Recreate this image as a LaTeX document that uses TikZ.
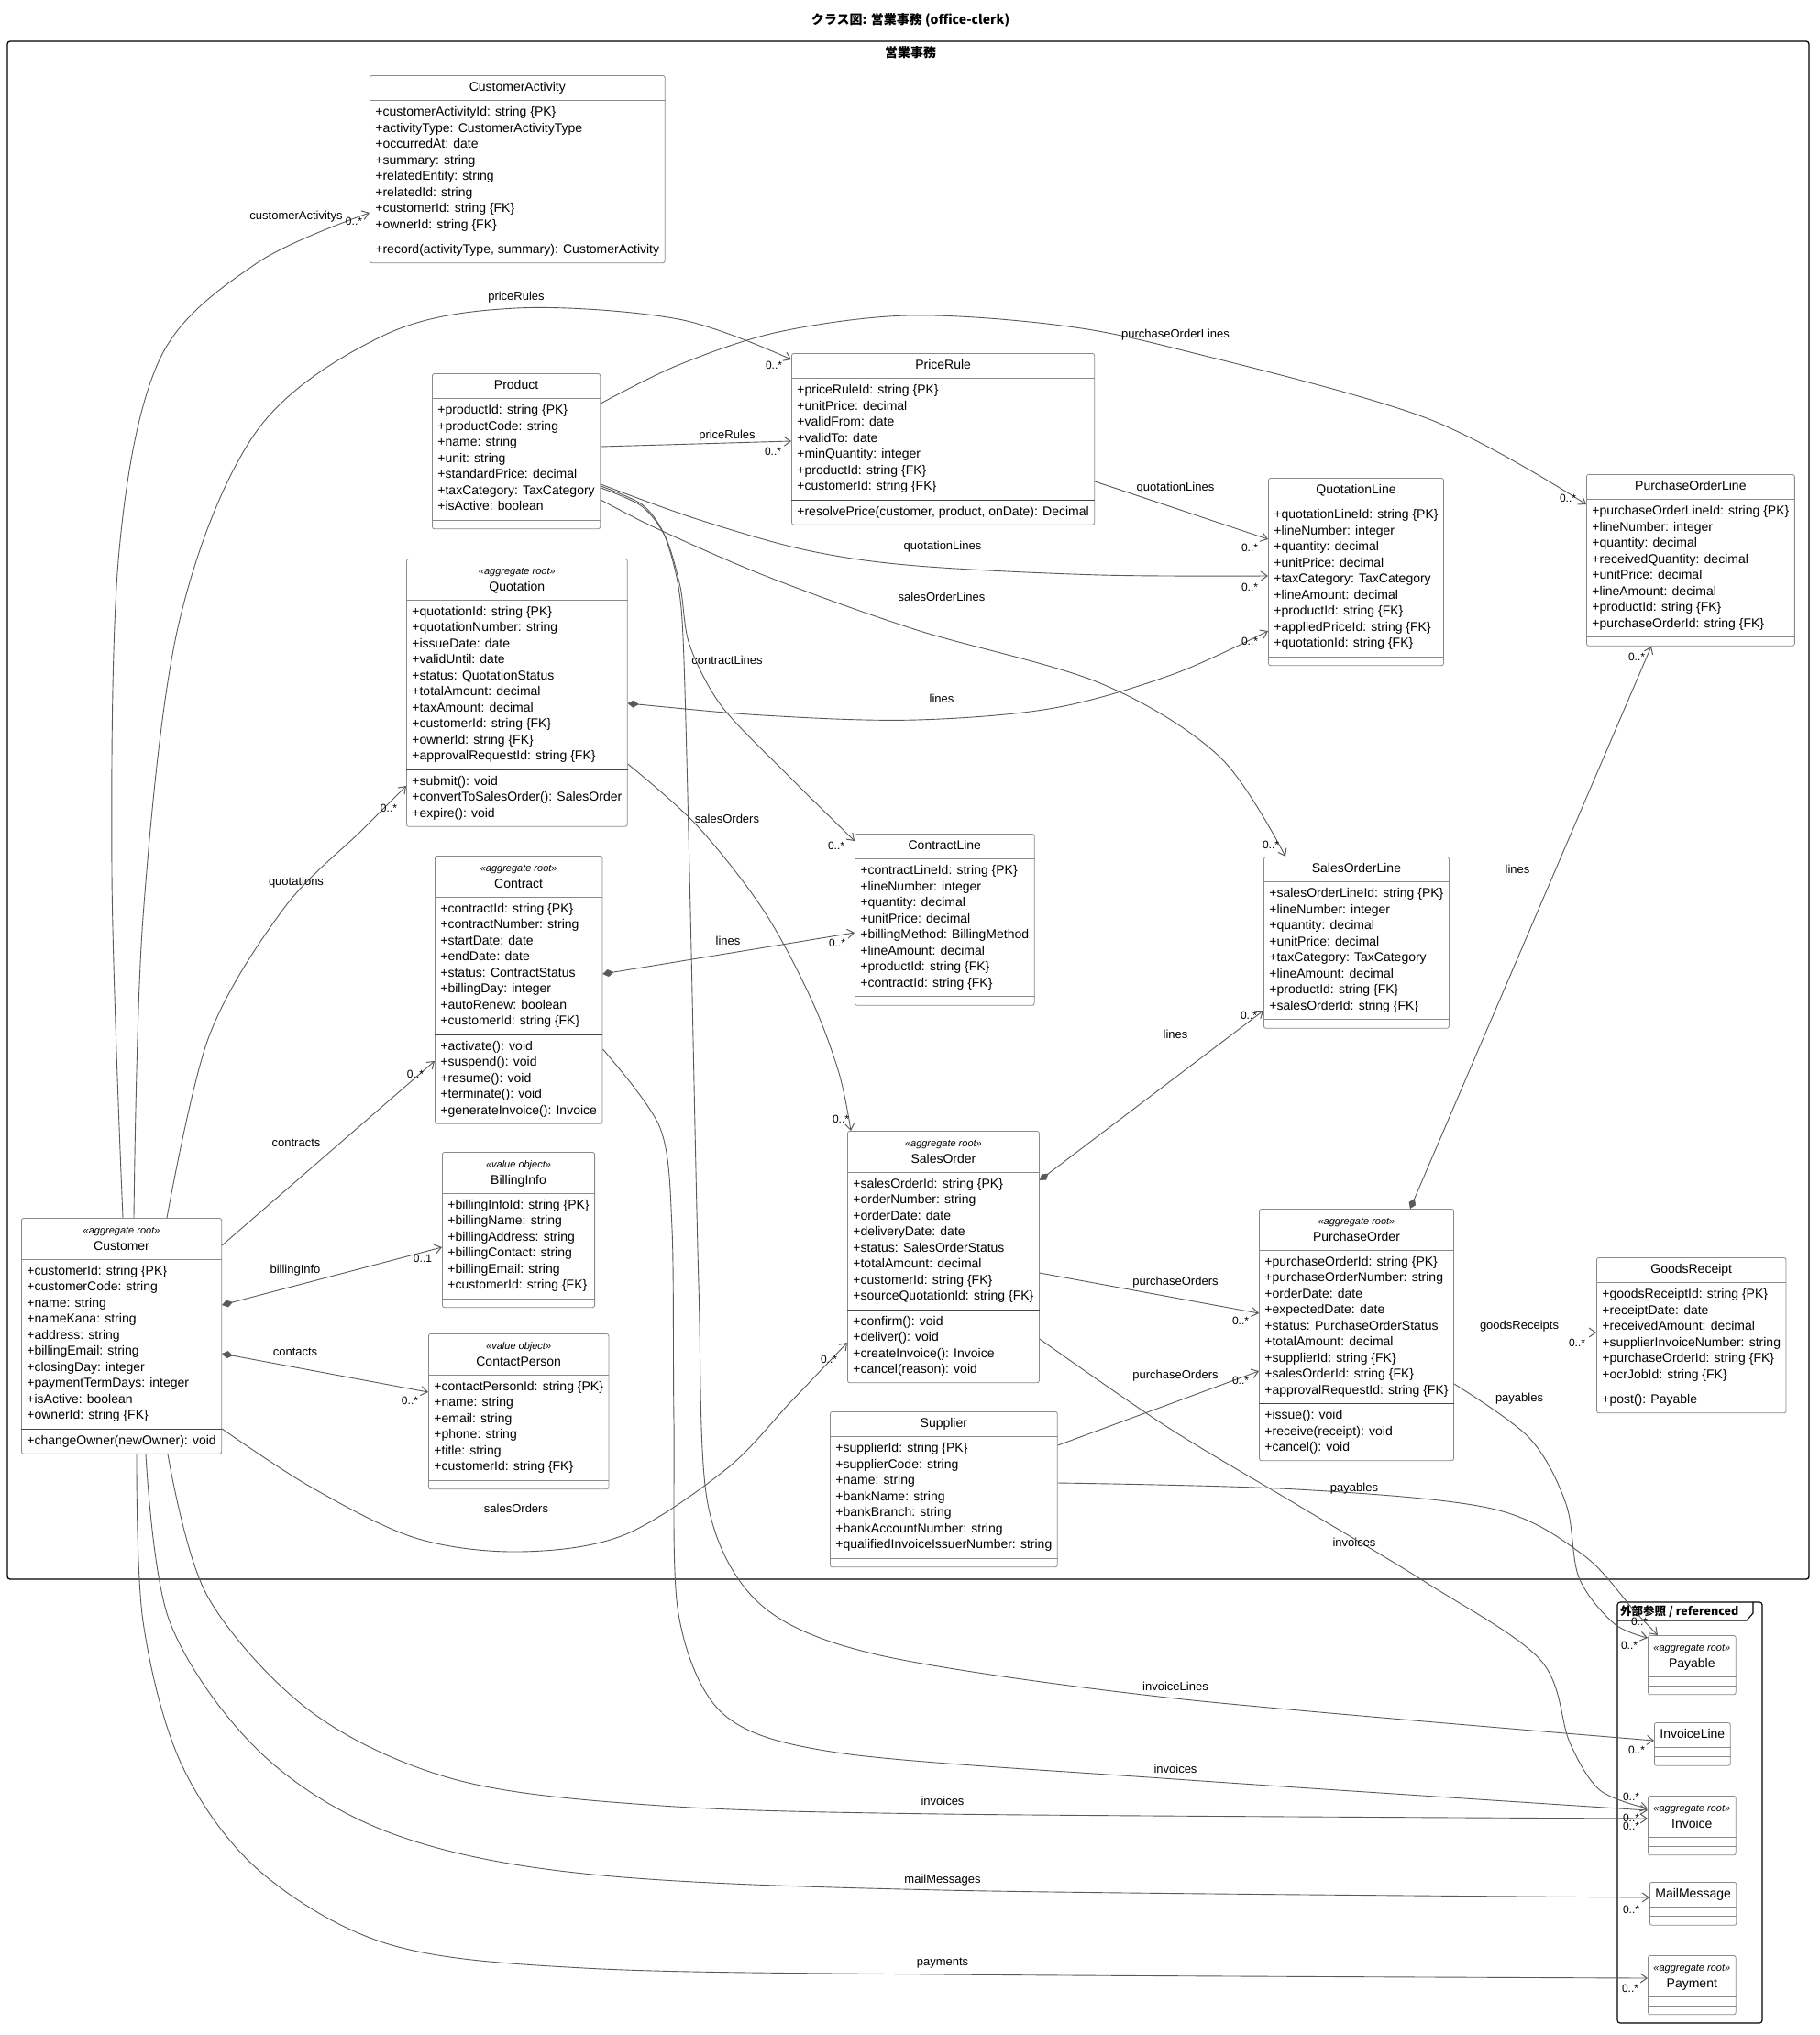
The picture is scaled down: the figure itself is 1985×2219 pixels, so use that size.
\documentclass[tikz,border=0pt]{standalone}
\usepackage{fontspec}
\setmainfont{Liberation Sans}
\newfontfamily\cjk{Noto Sans CJK JP}
\usetikzlibrary{arrows.meta,shapes.multipart,calc}
\definecolor{clsb}{HTML}{8A8A8A}
\definecolor{sepd}{HTML}{444444}
\definecolor{connc}{HTML}{5A5A5A}
\newcommand\clsfont{\fontsize{14}{17.5}\selectfont}
\newcommand\stfont{\fontsize{11}{13}\selectfont\itshape}
\newcommand\rolefont{\fontsize{13}{15}\selectfont}
\newcommand\multfont{\fontsize{12}{14}\selectfont}
\newcommand\uattr[1]{\begin{tabular}{@{}l@{}}#1\end{tabular}}
\newcommand\uhead[1]{\begin{tabular}{@{}c@{}}#1\end{tabular}}
\newcommand\usthead[2]{\begin{tabular}{@{}c@{}}{\stfont «#1»}\\#2\end{tabular}}
\newcommand\uempty{\raisebox{0pt}[-1.5pt][0pt]{\rule{0.5pt}{0pt}}}
\tikzset{
  cls/.style={rectangle split, rectangle split parts=3,
    rectangle split part align={center,left,left},
    rectangle split draw splits=false,
    draw=clsb, fill=white, rounded corners=2.5pt, line width=0.8pt,
    inner xsep=6pt, inner ysep=4.5pt, anchor=north west, font=\clsfont},
  conn/.style={draw=connc, line width=0.9pt, -{Straight Barb[length=7pt,width=10pt,line width=1pt]}},
  comp/.style={draw=connc, line width=0.9pt, {Diamond[length=12pt,width=8pt,fill=connc,line width=0.4pt]}-{Straight Barb[length=7pt,width=10pt,line width=1pt]}},
  role/.style={font=\rolefont, inner sep=1pt},
  mult/.style={font=\multfont, inner sep=1pt},
  sepl/.style={draw=clsb, line width=0.8pt},
  sepm/.style={draw=sepd, line width=0.8pt},
}
\begin{document}
\begin{tikzpicture}[x=1pt,y=-1pt]
\useasboundingbox (0,0) rectangle (1985,2219);
\fill[white] (0,0) rectangle (1985,2219);
% title and frames
\node[font=\cjk\bfseries\fontsize{14}{16}\selectfont] (title) at (993,22) {クラス図: 営業事務 (office-clerk)};
\draw[line width=1.3pt, rounded corners=3pt] (8,45) rectangle (1973,1722);
\node[font=\cjk\bfseries\fontsize{14}{16}\selectfont] (pkglabel) at (993,57) {営業事務};
\draw[line width=1.1pt, rounded corners=3pt] (1764,1747) rectangle (1922,2206);
\draw[line width=1.1pt] (1764,1767) -- (1905,1767) -- (1912,1759) -- (1912,1747);
\node[anchor=west, inner sep=0pt, font=\cjk\bfseries\fontsize{12.5}{15}\selectfont] (extlabel) at (1767,1757) {外部参照 / referenced};

% classes
\node[cls] (cact) at (403,82) {\uhead{CustomerActivity}\nodepart{two}\uattr{+customerActivityId: string \{PK\}\\+activityType: CustomerActivityType\\+occurredAt: date\\+summary: string\\+relatedEntity: string\\+relatedId: string\\+customerId: string \{FK\}\\+ownerId: string \{FK\}}\nodepart{three}\uattr{+record(activityType, summary): CustomerActivity}};

\node[cls] (prule) at (863,385) {\uhead{PriceRule}\nodepart{two}\uattr{+priceRuleId: string \{PK\}\\+unitPrice: decimal\\+validFrom: date\\+validTo: date\\+minQuantity: integer\\+productId: string \{FK\}\\+customerId: string \{FK\}}\nodepart{three}\uattr{+resolvePrice(customer, product, onDate): Decimal}};

\node[cls] (prod) at (471,407) {\uhead{Product}\nodepart{two}\uattr{+productId: string \{PK\}\\+productCode: string\\+name: string\\+unit: string\\+standardPrice: decimal\\+taxCategory: TaxCategory\\+isActive: boolean}\nodepart{three}\uempty};

\node[cls] (qline) at (1383,521) {\uhead{QuotationLine}\nodepart{two}\uattr{+quotationLineId: string \{PK\}\\+lineNumber: integer\\+quantity: decimal\\+unitPrice: decimal\\+taxCategory: TaxCategory\\+lineAmount: decimal\\+productId: string \{FK\}\\+appliedPriceId: string \{FK\}\\+quotationId: string \{FK\}}\nodepart{three}\uempty};

\node[cls] (poline) at (1730,517) {\uhead{PurchaseOrderLine}\nodepart{two}\uattr{+purchaseOrderLineId: string \{PK\}\\+lineNumber: integer\\+quantity: decimal\\+receivedQuantity: decimal\\+unitPrice: decimal\\+lineAmount: decimal\\+productId: string \{FK\}\\+purchaseOrderId: string \{FK\}}\nodepart{three}\uempty};

\node[cls] (quot) at (443,609) {\usthead{aggregate root}{Quotation}\nodepart{two}\uattr{+quotationId: string \{PK\}\\+quotationNumber: string\\+issueDate: date\\+validUntil: date\\+status: QuotationStatus\\+totalAmount: decimal\\+taxAmount: decimal\\+customerId: string \{FK\}\\+ownerId: string \{FK\}\\+approvalRequestId: string \{FK\}}\nodepart{three}\uattr{+submit(): void\\+convertToSalesOrder(): SalesOrder\\+expire(): void}};

\node[cls] (cline) at (932,909) {\uhead{ContractLine}\nodepart{two}\uattr{+contractLineId: string \{PK\}\\+lineNumber: integer\\+quantity: decimal\\+unitPrice: decimal\\+billingMethod: BillingMethod\\+lineAmount: decimal\\+productId: string \{FK\}\\+contractId: string \{FK\}}\nodepart{three}\uempty};

\node[cls] (soline) at (1378,934) {\uhead{SalesOrderLine}\nodepart{two}\uattr{+salesOrderLineId: string \{PK\}\\+lineNumber: integer\\+quantity: decimal\\+unitPrice: decimal\\+taxCategory: TaxCategory\\+lineAmount: decimal\\+productId: string \{FK\}\\+salesOrderId: string \{FK\}}\nodepart{three}\uempty};

\node[cls] (contract) at (474,933) {\usthead{aggregate root}{Contract}\nodepart{two}\uattr{+contractId: string \{PK\}\\+contractNumber: string\\+startDate: date\\+endDate: date\\+status: ContractStatus\\+billingDay: integer\\+autoRenew: boolean\\+customerId: string \{FK\}}\nodepart{three}\uattr{+activate(): void\\+suspend(): void\\+resume(): void\\+terminate(): void\\+generateInvoice(): Invoice}};

\node[cls] (billing) at (482,1256) {\usthead{value object}{BillingInfo}\nodepart{two}\uattr{+billingInfoId: string \{PK\}\\+billingName: string\\+billingAddress: string\\+billingContact: string\\+billingEmail: string\\+customerId: string \{FK\}}\nodepart{three}\uempty};

\node[cls] (so) at (924,1233) {\usthead{aggregate root}{SalesOrder}\nodepart{two}\uattr{+salesOrderId: string \{PK\}\\+orderNumber: string\\+orderDate: date\\+deliveryDate: date\\+status: SalesOrderStatus\\+totalAmount: decimal\\+customerId: string \{FK\}\\+sourceQuotationId: string \{FK\}}\nodepart{three}\uattr{+confirm(): void\\+deliver(): void\\+createInvoice(): Invoice\\+cancel(reason): void}};

\node[cls] (po) at (1373,1318) {\usthead{aggregate root}{PurchaseOrder}\nodepart{two}\uattr{+purchaseOrderId: string \{PK\}\\+purchaseOrderNumber: string\\+orderDate: date\\+expectedDate: date\\+status: PurchaseOrderStatus\\+totalAmount: decimal\\+supplierId: string \{FK\}\\+salesOrderId: string \{FK\}\\+approvalRequestId: string \{FK\}}\nodepart{three}\uattr{+issue(): void\\+receive(receipt): void\\+cancel(): void}};

\node[cls] (gr) at (1741,1371) {\uhead{GoodsReceipt}\nodepart{two}\uattr{+goodsReceiptId: string \{PK\}\\+receiptDate: date\\+receivedAmount: decimal\\+supplierInvoiceNumber: string\\+purchaseOrderId: string \{FK\}\\+ocrJobId: string \{FK\}}\nodepart{three}\uattr{+post(): Payable}};

\node[cls] (cust) at (23,1328) {\usthead{aggregate root}{Customer}\nodepart{two}\uattr{+customerId: string \{PK\}\\+customerCode: string\\+name: string\\+nameKana: string\\+address: string\\+billingEmail: string\\+closingDay: integer\\+paymentTermDays: integer\\+isActive: boolean\\+ownerId: string \{FK\}}\nodepart{three}\uattr{+changeOwner(newOwner): void}};

\node[cls] (contact) at (467,1454) {\usthead{value object}{ContactPerson}\nodepart{two}\uattr{+contactPersonId: string \{PK\}\\+name: string\\+email: string\\+phone: string\\+title: string\\+customerId: string \{FK\}}\nodepart{three}\uempty};

\node[cls] (supp) at (905,1539) {\uhead{Supplier}\nodepart{two}\uattr{+supplierId: string \{PK\}\\+supplierCode: string\\+name: string\\+bankName: string\\+bankBranch: string\\+bankAccountNumber: string\\+qualifiedInvoiceIssuerNumber: string}\nodepart{three}\uempty};

\node[cls] (payable) at (1797,1783) {\usthead{aggregate root}{Payable}\nodepart{two}\uempty\nodepart{three}\uempty};
\node[cls] (invline) at (1804,1878) {\uhead{InvoiceLine}\nodepart{two}\uempty\nodepart{three}\uempty};
\node[cls] (invoice) at (1797,1958) {\usthead{aggregate root}{Invoice}\nodepart{two}\uempty\nodepart{three}\uempty};
\node[cls] (mail) at (1799,2052) {\uhead{MailMessage}\nodepart{two}\uempty\nodepart{three}\uempty};
\node[cls] (payment) at (1797,2132) {\usthead{aggregate root}{Payment}\nodepart{two}\uempty\nodepart{three}\uempty};

% compartment separators
\foreach \n in {cact,prule,prod,qline,poline,quot,cline,soline,contract,billing,so,po,gr,cust,contact,supp,payable,invline,invoice,mail,payment}
  \draw[sepl] (\n.text split west) -- (\n.text split east);
\foreach \n in {cact,prule,quot,contract,so,po,gr,cust}
  \draw[sepm] (\n.two split west) -- (\n.two split east);
\foreach \n in {prod,qline,poline,cline,soline,billing,contact,supp,payable,invline,invoice,mail,payment}
  \draw[sepl] (\n.two split west) -- (\n.two split east);

% connector end points
\coordinate (a1s) at ($(cust.north west)+(111,0)$);
\coordinate (a1e) at ($(cact.north west)+(0,150)$);
\coordinate (a2s) at ($(cust.north west)+(123,0)$);
\coordinate (a2e) at ($(prule.north west)+(0,7)$);
\coordinate (a3s) at ($(cust.north west)+(159,0)$);
\coordinate (a3e) at ($(quot.north west)+(0,248)$);
\coordinate (a4s) at ($(cust.north east)+(0,30)$);
\coordinate (a4e) at ($(contract.north west)+(0,224)$);
\coordinate (a5s) at ($(cust.north east)+(0,95)$);
\coordinate (a5e) at ($(billing.north west)+(0,104)$);
\coordinate (a6s) at ($(cust.north east)+(0,148)$);
\coordinate (a6e) at ($(contact.north west)+(0,64)$);
\coordinate (a7s) at ($(cust.north east)+(0,230)$);
\coordinate (a7e) at ($(so.north west)+(0,231)$);
\coordinate (a8s) at ($(cust.south west)+(160,0)$);
\coordinate (a8e) at ($(invoice.north west)+(0,25)$);
\coordinate (a9s) at ($(cust.south west)+(136,0)$);
\coordinate (a9e) at ($(mail.north west)+(0,17)$);
\coordinate (a10s) at ($(cust.south west)+(126,0)$);
\coordinate (a10e) at ($(payment.north west)+(0,25)$);
\coordinate (b1s) at ($(prod.north east)+(0,33)$);
\coordinate (b1e) at ($(poline.north west)+(0,33)$);
\coordinate (b2s) at ($(prod.north east)+(0,80)$);
\coordinate (b2e) at ($(prule.north west)+(0,96)$);
\coordinate (b3s) at ($(prod.north east)+(0,121)$);
\coordinate (b3e) at ($(qline.north west)+(0,107)$);
\coordinate (b4s) at ($(prod.north east)+(0,123)$);
\coordinate (b4e) at ($(invline.north west)+(0,20)$);
\coordinate (b5s) at ($(prod.north east)+(0,125)$);
\coordinate (b5e) at ($(cline.north west)+(0,8)$);
\coordinate (b6s) at ($(prod.north east)+(0,138)$);
\coordinate (b6e) at ($(soline.north west)+(24,0)$);
\coordinate (c1s) at ($(prule.north east)+(0,140)$);
\coordinate (c1e) at ($(qline.north west)+(0,67)$);
\coordinate (d1s) at ($(quot.north east)+(0,158)$);
\coordinate (d1e) at ($(qline.north west)+(0,167)$);
\coordinate (d2s) at ($(quot.north east)+(0,224)$);
\coordinate (d2e) at ($(so.north west)+(4,0)$);
\coordinate (e1s) at ($(contract.north east)+(0,129)$);
\coordinate (e1e) at ($(cline.north west)+(0,108)$);
\coordinate (e2s) at ($(contract.north east)+(0,211)$);
\coordinate (e2e) at ($(invoice.north west)+(0,16)$);
\coordinate (f1s) at ($(so.north east)+(0,54)$);
\coordinate (f1e) at ($(soline.north west)+(0,168)$);
\coordinate (f2s) at ($(so.north east)+(0,155)$);
\coordinate (f2e) at ($(po.north west)+(0,114)$);
\coordinate (f3s) at ($(so.north east)+(0,227)$);
\coordinate (f3e) at ($(invoice.north west)+(0,14)$);
\coordinate (g1s) at ($(supp.north east)+(0,37)$);
\coordinate (g1e) at ($(po.north west)+(0,177)$);
\coordinate (g2s) at ($(supp.north east)+(0,78)$);
\coordinate (g2e) at ($(payable.north west)+(11,0)$);
\coordinate (h1s) at ($(po.north east)+(0,135)$);
\coordinate (h1e) at ($(gr.north west)+(0,82)$);
\coordinate (h2s) at ($(po.north east)+(0,191)$);
\coordinate (h2e) at ($(payable.north west)+(0,3)$);
\coordinate (h3s) at ($(po.north west)+(165,0)$);
\coordinate (h3e) at ($(poline.south west)+(71,0)$);

% connectors: Customer
\draw[conn] plot[smooth,tension=0.55] coordinates {(a1s) (122,950) (130,600) (175,390) (280,287) (a1e)};
\draw[conn] plot[smooth,tension=0.55] coordinates {(a2s) (156,1000) (195,680) (280,470) (420,365) (563,336) (740,348) (a2e)};
\draw[conn] plot[smooth,tension=0.55] coordinates {(a3s) (228,1130) (310,990) (395,905) (a3e)};
\draw[conn] (a4s) -- (a4e);
\draw[comp] (a5s) -- (a5e);
\draw[comp] (a6s) -- (a6e);
\draw[conn] plot[smooth,tension=0.55] coordinates {(a7s) (340,1622) (453,1677) (566,1692) (680,1674) (792,1602) (863,1528) (a7e)};
\draw[conn] plot[smooth,tension=0.55] coordinates {(a8s) (226,1740) (340,1867) (495,1940) (707,1968) (1028,1978) (a8e)};
\draw[conn] plot[smooth,tension=0.55] coordinates {(a9s) (185,1768) (283,1910) (424,1998) (637,2043) (1028,2061) (a9e)};
\draw[conn] plot[smooth,tension=0.55] coordinates {(a10s) (156,1768) (198,1924) (283,2040) (424,2120) (637,2146) (1028,2153) (a10e)};
% Product
\draw[conn] plot[smooth,tension=0.55] coordinates {(b1s) (740,398) (849,362) (990,344) (1150,354) (1282,380) (1556,456) (b1e)};
\draw[conn] (b2s) -- (b2e);
\draw[conn] plot[smooth,tension=0.55] coordinates {(b3s) (760,566) (880,600) (1000,617) (1200,627) (b3e)};
\draw[conn] plot[smooth,tension=0.5] coordinates {(b4s) (700,550) (724,582) (740,640) (746,720) (753,993) (762,1400) (772,1640) (830,1750) (960,1805) (1282,1852) (b4e)};
\draw[conn] plot[smooth,tension=0.5] coordinates {(b5s) (700,552) (726,586) (742,640) (752,703) (787,770) (860,846) (b5e)};
\draw[conn] plot[smooth,tension=0.55] coordinates {(b6s) (720,578) (840,630) (1000,687) (1200,745) (1330,825) (b6e)};
\draw[conn] (c1s) -- (c1e);
% Quotation, Contract
\draw[comp] plot[smooth,tension=0.55] coordinates {(d1s) (850,781) (1000,785) (1150,772) (1280,735) (d1e)};
\draw[conn] plot[smooth,tension=0.55] coordinates {(d2s) (760,900) (833,993) (885,1090) (915,1170) (d2e)};
\draw[comp] (e1s) -- (e1e);
\draw[conn] plot[smooth,tension=0.5] coordinates {(e2s) (720,1230) (733,1340) (735,1550) (740,1760) (790,1870) (920,1912) (1282,1940) (e2e)};
% SalesOrder, Supplier, PurchaseOrder
\draw[comp] (f1s) -- (f1e);
\draw[conn] (f2s) -- (f2e);
\draw[conn] plot[smooth,tension=0.55] coordinates {(f3s) (1273,1556) (1415,1641) (1556,1726) (1680,1810) (1712,1900) (1745,1952) (f3e)};
\draw[conn] (g1s) -- (g1e);
\draw[conn] plot[smooth,tension=0.55] coordinates {(g2s) (1415,1624) (1627,1645) (1726,1695) (1783,1757) (g2e)};
\draw[conn] (h1s) -- (h1e);
\draw[conn] plot[smooth,tension=0.55] coordinates {(h2s) (1668,1568) (1708,1640) (1722,1720) (1760,1770) (h2e)};
\draw[comp] (h3s) -- (h3e);

% role labels
\node[role] (r1) at (323,236) {customerActivitys};
\node[role] (r2) at (563,324) {priceRules};
\node[role] (r3) at (1282,365) {purchaseOrderLines};
\node[role] (r4) at (793,475) {priceRules};
\node[role] (r5) at (1282,532) {quotationLines};
\node[role] (r6) at (1028,596) {quotationLines};
\node[role] (r7) at (1027,651) {salesOrderLines};
\node[role] (r8) at (793,720) {contractLines};
\node[role] (r9) at (1027,762) {lines};
\node[role] (r10) at (793,893) {salesOrders};
\node[role] (r11) at (323,962) {quotations};
\node[role] (r12) at (794,1026) {lines};
\node[role] (r13) at (1282,1128) {lines};
\node[role] (r14) at (323,1246) {contracts};
\node[role] (r15) at (322,1385) {billingInfo};
\node[role] (r16) at (1282,1398) {purchaseOrders};
\node[role] (r17) at (1657,1446) {goodsReceipts};
\node[role] (r18) at (1655,948) {lines};
\node[role] (r19) at (322,1474) {contacts};
\node[role] (r20) at (1282,1500) {purchaseOrders};
\node[role] (r21) at (1657,1525) {payables};
\node[role] (r22) at (1477,1623) {payables};
\node[role] (r23) at (563,1645) {salesOrders};
\node[role] (r24) at (1477,1682) {invoices};
\node[role] (r25) at (1282,1839) {invoiceLines};
\node[role] (r26) at (1282,1929) {invoices};
\node[role] (r27) at (1028,1964) {invoices};
\node[role] (r28) at (1028,2050) {mailMessages};
\node[role] (r29) at (1028,2141) {payments};

% multiplicities
\node[mult] (m1) at (386,241) {0..*};
\node[mult] (m2) at (844,398) {0..*};
\node[mult] (m3) at (1710,543) {0..*};
\node[mult] (m4) at (843,492) {0..*};
\node[mult] (m5) at (1363,597) {0..*};
\node[mult] (m6) at (1363,640) {0..*};
\node[mult] (m7) at (1363,699) {0..*};
\node[mult] (m8) at (1386,921) {0..*};
\node[mult] (m9) at (912,922) {0..*};
\node[mult] (m10) at (917,1220) {0..*};
\node[mult] (m11) at (424,881) {0..*};
\node[mult] (m12) at (453,1171) {0..*};
\node[mult] (m13) at (461,1372) {0..1};
\node[mult] (m14) at (447,1527) {0..*};
\node[mult] (m15) at (904,1482) {0..*};
\node[mult] (m16) at (913,1028) {0..*};
\node[mult] (m17) at (1779,1959) {0..*};
\node[mult] (m18) at (1779,1982) {0..*};
\node[mult] (m19) at (1779,1991) {0..*};
\node[mult] (m20) at (1785,1908) {0..*};
\node[mult] (m21) at (1779,2082) {0..*};
\node[mult] (m22) at (1778,2168) {0..*};
\node[mult] (m23) at (1362,1107) {0..*};
\node[mult] (m24) at (1353,1440) {0..*};
\node[mult] (m25) at (1353,1505) {0..*};
\node[mult] (m26) at (1788,1768) {0..*};
\node[mult] (m27) at (1777,1794) {0..*};
\node[mult] (m28) at (1720,1464) {0..*};
\node[mult] (m29) at (1785,716) {0..*};
\end{tikzpicture}
\end{document}
